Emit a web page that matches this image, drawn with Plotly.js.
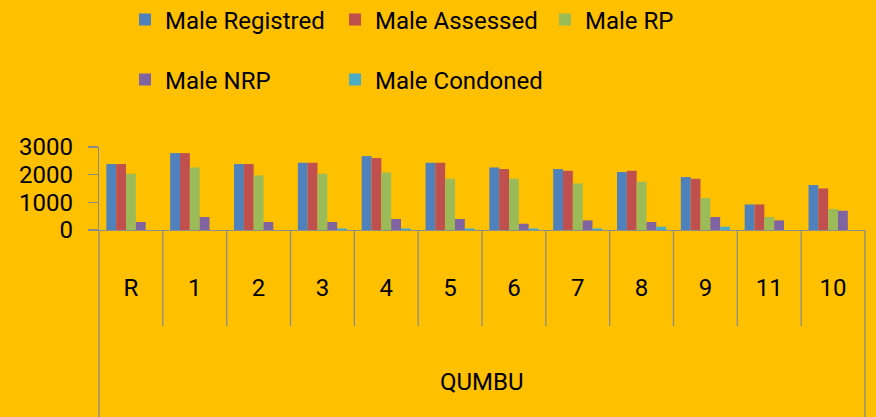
<!DOCTYPE html>
<html>
<head>
<meta charset="utf-8">
<script src="https://cdn.plot.ly/plotly-3.0.1.min.js"></script>
<style>html,body{margin:0;padding:0;background:#FFC000;}#chart{width:876px;height:417px;}</style>
</head>
<body>
<div id="chart"></div>
<script>
const categories = ["R","1","2","3","4","5","6","7","8","9","11","10"];
const groupLabel = "QUMBU";
const maleRegistred = [2383, 2780, 2383, 2430, 2671, 2430, 2260, 2202, 2094, 1913, 924, 1625];
const maleAssessed  = [2383, 2780, 2383, 2430, 2599, 2430, 2202, 2141, 2141, 1852, 924, 1502];
const maleRP        = [2033, 2260, 1971, 2033, 2080, 1852, 1852, 1682, 1744, 1155, 469, 758];
const maleNRP       = [289, 469, 289, 289, 397, 397, 227, 347, 289, 469, 347, 697];
const maleCondoned  = [0, 0, 0, 58, 58, 58, 58, 58, 119, 119, 0, 0];
const yTicks = [0, 1000, 2000, 3000];

const seriesNames = ["Male Registred","Male Assessed","Male RP","Male NRP","Male Condoned"];
const seriesValues = [maleRegistred, maleAssessed, maleRP, maleNRP, maleCondoned];
const colors = ["#4F81BD","#C0504D","#9BBB59","#8064A2","#4BACC6"];
const legendOf = ["legend","legend","legend","legend2","legend2"];

const FONT = "Roboto, 'Open Sans', sans-serif";
const traces = seriesNames.map((name, i) => ({
  type: "bar",
  name: name,
  x: categories,
  y: seriesValues[i],
  marker: {color: colors[i], line: {color: colors[i], width: 0}},
  legend: legendOf[i],
  hoverinfo: "x+y+name"
}));

const axisGray = "#8C8C8C";
const plotH = 417 - 147 - 187;
const n = categories.length;
const shapes = [];
for (let i = 0; i <= n; i++) {
  const edge = (i === 0 || i === n);
  shapes.push({
    type: "line", xref: "paper", yref: "paper",
    x0: i / n, x1: i / n,
    y0: 0, y1: edge ? -187 / plotH : -96 / plotH,
    line: {color: axisGray, width: 1.3}
  });
}

const legendCommon = {
  orientation: "h", xref: "container", yref: "container",
  xanchor: "left", yanchor: "middle",
  entrywidth: 165, entrywidthmode: "pixels",
  bgcolor: "rgba(0,0,0,0)", borderwidth: 0,
  font: {family: FONT, size: 24, color: "#000"},
  traceorder: "normal"
};

const layout = {
  width: 876, height: 417,
  paper_bgcolor: "#FFC000", plot_bgcolor: "#FFC000",
  margin: {l: 99, r: 11, t: 147, b: 187},
  barmode: "group",
  bargap: 0.23, bargroupgap: 0,
  showlegend: true,
  legend: Object.assign({}, legendCommon, {x: 125 / 876, y: 1 - 20 / 417}),
  legend2: Object.assign({}, legendCommon, {x: 125 / 876, y: 1 - 80 / 417}),
  xaxis: {
    type: "category",
    showline: true, linecolor: axisGray, linewidth: 1.3,
    ticks: "", showgrid: false, zeroline: false,
    tickfont: {family: FONT, size: 24, color: "#000"},
    ticklabelstandoff: 36,
    fixedrange: true
  },
  yaxis: {
    range: [0, 3000],
    tickvals: yTicks,
    ticktext: yTicks.map(String),
    ticks: "outside", ticklen: 10, tickcolor: axisGray, tickwidth: 1.3,
    showline: true, linecolor: axisGray, linewidth: 1.3,
    showgrid: false, zeroline: false,
    tickfont: {family: FONT, size: 24, color: "#000"},
    ticklabelstandoff: 10,
    fixedrange: true
  },
  shapes: shapes,
  annotations: [{
    text: groupLabel, xref: "paper", yref: "paper",
    x: 0.5, y: -(382 - 230) / plotH, xanchor: "center", yanchor: "middle",
    showarrow: false, font: {family: FONT, size: 24, color: "#000"}
  }]
};

Plotly.newPlot("chart", traces, layout, {displayModeBar: false, staticPlot: true});
</script>
</body>
</html>
